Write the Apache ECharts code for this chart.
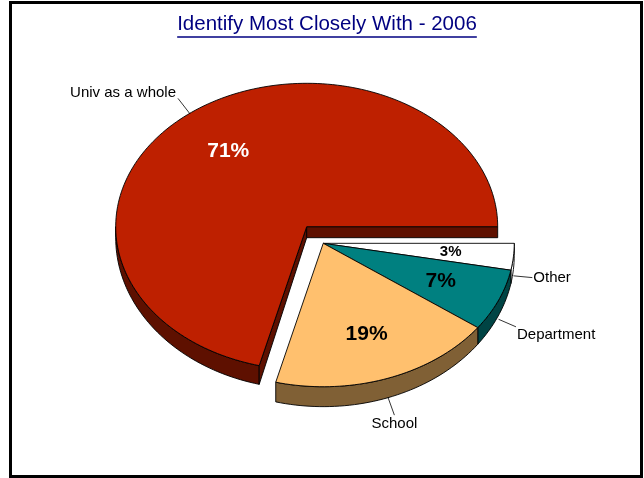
<!DOCTYPE html>
<html><head><meta charset="utf-8">
<script src="https://cdn.jsdelivr.net/npm/echarts@6/dist/echarts.min.js"></script>
<style>html,body{margin:0;padding:0;background:#fff}#c{width:644px;height:478px}</style>
</head><body><div id="c"></div>
<script>
const titleText = 'Identify Most Closely With - 2006';
// slices listed clockwise starting at 3 o'clock
const categories = ['Other', 'Department', 'School', 'Univ as a whole'];
const values = [3, 7, 19, 71];
const explodedFlags = [true, true, true, false];

const topColors = ['#FFFFFF', '#008080', '#FFC06E', '#BE2000'];
const wallColors = ['#FFFFFF', '#004444', '#806035', '#5E1000'];
const pctColors = ['#000000', '#000000', '#000000', '#FFFFFF'];
const pctSizes = [15, 21, 21, 21];

const FONT = '"Liberation Sans", Arial, Helvetica, sans-serif';
const CX = 306.7, CY = 226.7, RX = 191, RY = 143.4, EXPLODE = 27, LEADER = 19, LEADER_DROP = 19;
// perspective-ish wall depth: thinner at the back, thicker at the front
function depthAt(y) { return Math.max(6, 11 + 8 * (y - CY) / RY); }

const total = values.reduce((a, b) => a + b, 0);
const slices = [];
let acc = 0;
values.forEach((v) => {
  const a0 = acc / total * 2 * Math.PI; acc += v;
  const a1 = acc / total * 2 * Math.PI;
  slices.push({ a0, a1 });
});
let ga0 = Infinity, ga1 = -Infinity;
slices.forEach((s, i) => { if (explodedFlags[i]) { ga0 = Math.min(ga0, s.a0); ga1 = Math.max(ga1, s.a1); } });
const gmid = (ga0 + ga1) / 2;
const OX = EXPLODE * Math.cos(gmid), OY = EXPLODE * RY / RX * Math.sin(gmid) + 0.6;

function pt(cx, cy, a) { return [cx + RX * Math.cos(a), cy + RY * Math.sin(a)]; }
function down(p) { return [p[0], p[1] + depthAt(p[1])]; }
function arc(cx, cy, a0, a1) {
  const n = Math.max(2, Math.ceil((a1 - a0) / (Math.PI / 120)));
  const pts = [];
  for (let k = 0; k <= n; k++) pts.push(pt(cx, cy, a0 + (a1 - a0) * k / n));
  return pts;
}

function renderItem(params, api) {
  const i = params.dataIndex;
  const v = api.value(0);
  const s = slices[i];
  const ex = explodedFlags[i];
  const cx = CX + (ex ? OX : 0), cy = CY + (ex ? OY : 0);
  const base = ex ? 20 : 0;
  const ls = { stroke: '#000', lineWidth: 0.9 };
  const children = [];
  // outer wall (front half only)
  [[0, Math.PI], [2 * Math.PI, 3 * Math.PI]].forEach(([lo, hi]) => {
    const b0 = Math.max(s.a0, lo), b1 = Math.min(s.a1, hi);
    if (b1 > b0 + 1e-6) {
      const top = arc(cx, cy, b0, b1);
      const bot = top.map(down).reverse();
      children.push({ type: 'polygon', shape: { points: top.concat(bot) }, style: Object.assign({ fill: wallColors[i] }, ls), z2: base + 1 });
    }
  });
  // radial cut faces at boundaries between exploded/non-exploded slices
  const n = values.length;
  const prev = explodedFlags[(i - 1 + n) % n], next = explodedFlags[(i + 1) % n];
  const faces = [];
  if (prev !== ex && Math.sin(s.a0 - Math.PI / 2) > 0) faces.push(s.a0);
  if (next !== ex && Math.sin(s.a1 + Math.PI / 2) > 0) faces.push(s.a1);
  faces.forEach(a => {
    const e = pt(cx, cy, a);
    children.push({ type: 'polygon', shape: { points: [[cx, cy], e, down(e), down([cx, cy])] }, style: Object.assign({ fill: wallColors[i] }, ls), z2: base + 2 });
  });
  // top face
  children.push({ type: 'polygon', shape: { points: [[cx, cy]].concat(arc(cx, cy, s.a0, s.a1)) }, style: Object.assign({ fill: topColors[i] }, ls), z2: base + 3 });
  // percentage label
  const mid = (s.a0 + s.a1) / 2;
  const c = Math.cos(mid), sn = Math.sin(mid);
  children.push({ type: 'text', x: cx + 0.67 * RX * c, y: cy + 0.67 * RY * sn,
    style: { text: v + '%', fill: pctColors[i], fontSize: pctSizes[i], fontWeight: 'bold', fontFamily: FONT, align: 'center', verticalAlign: 'middle' }, z2: base + 6 });
  // leader + category label
  const tp = pt(cx, cy, mid);
  const sp = [tp[0], tp[1] + (sn > 0 ? LEADER_DROP : 0)];
  const ep = [sp[0] + LEADER * c, sp[1] + LEADER * sn];
  children.push({ type: 'line', shape: { x1: sp[0], y1: sp[1], x2: ep[0], y2: ep[1] }, style: { stroke: '#000', lineWidth: 0.8 }, z2: base + 5 });
  const align = c > 0.5 ? 'left' : (c < -0.5 ? 'right' : 'center');
  const valign = sn > 0.3 ? 'top' : (sn < -0.3 ? 'bottom' : 'middle');
  children.push({ type: 'text',
    x: ep[0] + (align === 'left' ? 1 : align === 'right' ? -2 : 0),
    y: ep[1] + (valign === 'top' ? 1 : valign === 'bottom' ? 2 : 0),
    style: { text: categories[i], fill: '#000', fontSize: 15, fontFamily: FONT, align: align, verticalAlign: valign }, z2: base + 6 });
  return { type: 'group', children: children };
}

const TITLE_SIZE = 20.5, TITLE_X = 327;
const mctx = document.createElement('canvas').getContext('2d');
mctx.font = TITLE_SIZE + 'px ' + FONT;
const tw = mctx.measureText(titleText).width;

const chart = echarts.init(document.getElementById('c'), null, { renderer: 'canvas' });
chart.setOption({
  backgroundColor: '#ffffff',
  animation: false,
  title: { text: titleText, left: TITLE_X - tw / 2, top: 14, padding: 0,
    textStyle: { color: '#000080', fontSize: TITLE_SIZE, fontWeight: 'normal', fontFamily: FONT } },
  graphic: [
    { type: 'rect', shape: { x: 10.5, y: 2.5, width: 631, height: 474 }, style: { fill: 'none', stroke: '#000', lineWidth: 3 }, silent: true },
    { type: 'line', shape: { x1: TITLE_X - tw / 2, y1: 37, x2: TITLE_X + tw / 2, y2: 37 }, style: { stroke: '#000080', lineWidth: 1.5 }, silent: true }
  ],
  series: [{
    type: 'custom',
    coordinateSystem: 'none',
    renderItem: renderItem,
    data: values.map((v, i) => ({ name: categories[i], value: [v] }))
  }]
});
</script>
</body></html>
